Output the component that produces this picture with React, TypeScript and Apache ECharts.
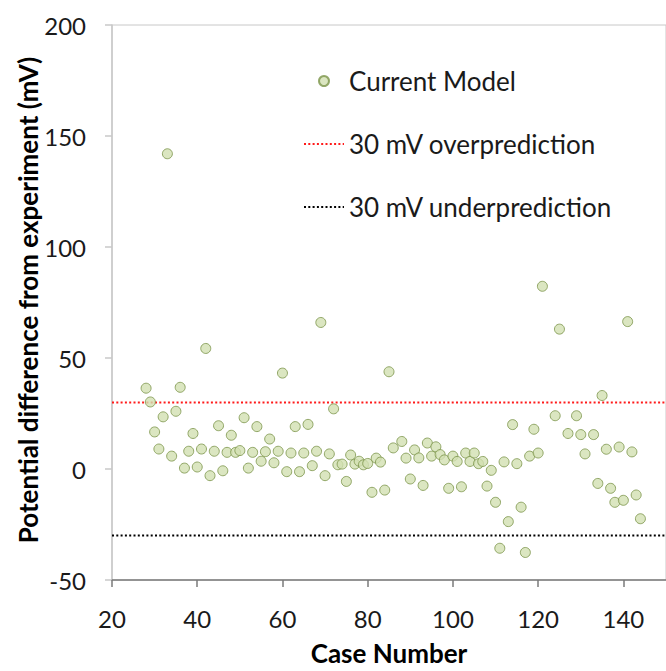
import React, { useEffect, useRef } from "react";
import * as echarts from "echarts";

const caseNumbers = [
  28, 29, 30, 31, 32, 33, 34, 35, 36, 37, 38, 39, 40, 41, 42, 43, 44, 45, 46, 47,
  48, 49, 50, 51, 52, 53, 54, 55, 56, 57, 58, 59, 60, 61, 62, 63, 64, 65, 66, 67,
  68, 69, 70, 71, 72, 73, 74, 75, 76, 77, 78, 79, 80, 81, 82, 83, 84, 85, 86, 88,
  89, 90, 91, 92, 93, 94, 95, 96, 97, 98, 99, 100, 101, 102, 103, 104, 105, 106, 107, 108,
  109, 110, 111, 112, 113, 114, 115, 116, 117, 118, 119, 120, 121, 124, 125, 127, 129, 130, 131, 133,
  134, 135, 136, 137, 138, 139, 140, 141, 142, 143, 144,
];
const diffValues = [
  36.4, 30.2, 16.7, 9.0, 23.5, 142, 5.8, 26.0, 36.8, 0.4, 8.0, 16.0, 0.9, 9.0, 54.3, -3.0, 8.0, 19.5, -0.8, 7.5,
  15.2, 7.5, 8.3, 23.1, 0.4, 7.5, 19.1, 3.5, 7.8, 13.5, 2.8, 8.0, 43.2, -1.2, 7.2, 19.1, -1.2, 7.2, 20.1, 1.5,
  8.0, 66, -3.0, 6.8, 27.1, 1.9, 2.2, -5.6, 6.3, 2.2, 3.5, 1.9, 2.5, -10.5, 4.9, 3.1, -9.5, 43.8, 9.5, 12.4,
  4.9, -4.5, 8.6, 5.0, -7.4, 11.7, 5.8, 10.0, 6.5, 4.1, -8.7, 5.8, 3.4, -8.0, 7.2, 3.4, 7.2, 2.4, 3.4, -7.7,
  -0.6, -15.0, -35.7, 3.2, -23.7, 20.0, 2.4, -17.2, -37.6, 5.8, 17.9, 7.2, 82.3, 24.0, 63, 16.0, 24.0, 15.5, 6.8, 15.5,
  -6.5, 33.1, 8.9, -8.7, -15.0, 9.9, -14.1, 66.4, 7.7, -11.7, -22.4,
];
const overThreshold = 30;
const underThreshold = -30;
const xRange = [20, 150];
const yRange = [-50, 200];
const seriesNames = ["Current Model", "30 mV overprediction", "30 mV underprediction"];
const yTitle = "Potential difference from experiment (mV)";
const xTitle = "Case Number";

export default function App() {
  const ref = useRef<HTMLDivElement>(null);
  useEffect(() => {
    if (!ref.current) return;
    const chart = echarts.init(ref.current, null, { renderer: "svg" });
    const font = "Lato";
    chart.setOption({
      animation: false,
      backgroundColor: "#ffffff",
      grid: {
        left: 112,
        top: 25,
        width: 558,
        height: 563,
        show: true,
        borderColor: "#c8c8c8",
        borderWidth: 1,
      },
      graphic: [
        {
          type: "text",
          x: 28,
          y: 300,
          rotation: Math.PI / 2,
          style: {
            text: yTitle,
            fontFamily: font,
            fontSize: 26,
            fontWeight: "bold",
            fill: "#000",
            align: "center",
            verticalAlign: "middle",
          },
        },
      ],
      legend: {
        orient: "vertical",
        left: 298,
        top: 63,
        itemWidth: 40,
        itemHeight: 10,
        itemGap: 37,
        data: [
          { name: seriesNames[0] },
          { name: seriesNames[1], itemStyle: { opacity: 0 } },
          { name: seriesNames[2], itemStyle: { opacity: 0 } },
        ],
        textStyle: { fontFamily: font, fontSize: 26, color: "#1a1a1a", lineHeight: 26 },
      },
      xAxis: {
        type: "value",
        min: xRange[0],
        max: xRange[1],
        interval: 20,
        name: xTitle,
        nameLocation: "middle",
        nameGap: 60,
        nameTextStyle: { fontFamily: font, fontSize: 26, fontWeight: "bold", color: "#000" },
        axisLine: { show: true, onZero: false, lineStyle: { color: "#7a7a7a", width: 1.5 } },
        axisTick: { show: true, length: 7, lineStyle: { color: "#7a7a7a", width: 1.5 } },
        axisLabel: {
          fontFamily: font,
          fontSize: 24,
          color: "#1a1a1a",
          margin: 26,
          showMaxLabel: false,
        },
        splitLine: { show: false },
      },
      yAxis: {
        type: "value",
        min: yRange[0],
        max: yRange[1],
        interval: 50,
        axisLine: { show: true, onZero: false, lineStyle: { color: "#c8c8c8", width: 1.5 } },
        axisTick: { show: true, length: 7, lineStyle: { color: "#c8c8c8", width: 1.5 } },
        axisLabel: { fontFamily: font, fontSize: 24, color: "#1a1a1a", margin: 26 },
        splitLine: { show: false },
      },
      series: [
        {
          name: seriesNames[0],
          type: "scatter",
          symbol: "circle",
          symbolSize: 10,
          z: 3,
          itemStyle: { color: "#d2e0b2", borderColor: "#7a9448", borderWidth: 1 },
          data: caseNumbers.map((c, i) => [c, diffValues[i]]),
        },
        {
          name: seriesNames[1],
          type: "line",
          symbol: "none",
          z: 2,
          lineStyle: { color: "#ff1a1a", width: 2, type: [2, 2.3] },
          itemStyle: { color: "#ff1a1a" },
          data: [
            [xRange[0], overThreshold],
            [xRange[1], overThreshold],
          ],
        },
        {
          name: seriesNames[2],
          type: "line",
          symbol: "none",
          z: 2,
          lineStyle: { color: "#000000", width: 2, type: [2, 2.3] },
          itemStyle: { color: "#000000" },
          data: [
            [xRange[0], underThreshold],
            [xRange[1], underThreshold],
          ],
        },
      ],
    });
    return () => chart.dispose();
  }, []);
  return (
    <div
      ref={ref}
      style={{ position: "fixed", left: 0, top: 0, width: 666, height: 671 }}
    />
  );
}
